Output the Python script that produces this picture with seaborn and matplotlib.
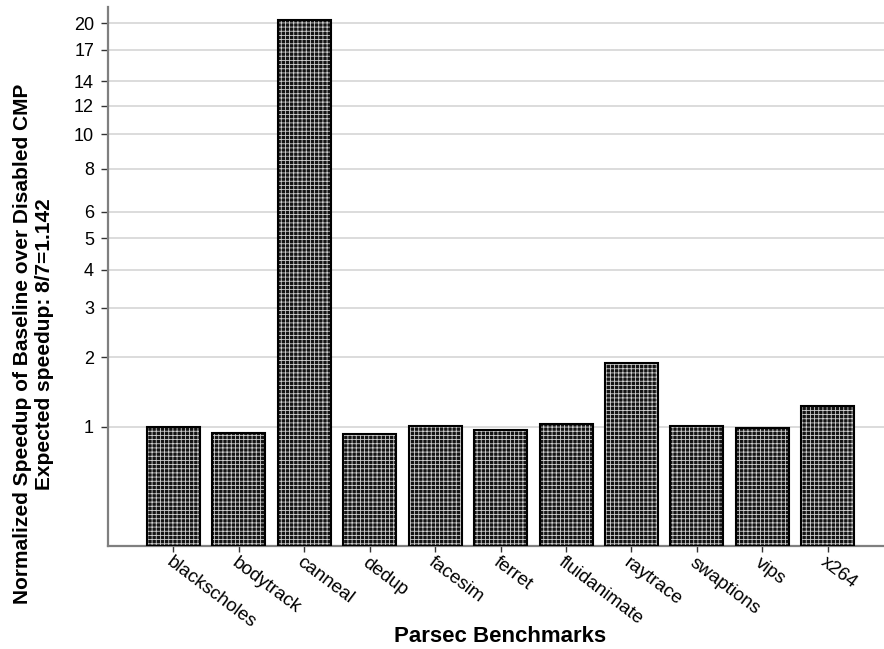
import numpy as np
import pandas as pd
import matplotlib
matplotlib.use("Agg")
import matplotlib.pyplot as plt
from matplotlib.patches import Rectangle
import seaborn as sns

benchmarks = ["blackscholes", "bodytrack", "canneal", "dedup", "facesim", "ferret",
              "fluidanimate", "raytrace", "swaptions", "vips", "x264"]
speedups = [0.994, 0.926, 20.4, 0.918, 1.004, 0.963, 1.03, 1.906, 1.006, 0.989, 1.254]
ytick_values = [1, 2, 3, 4, 5, 6, 8, 10, 12, 14, 17, 20]
ylabel_text = "Normalized Speedup of Baseline over Disabled CMP\nExpected speedup: 8/7=1.142"
xlabel_text = "Parsec Benchmarks"

sns.set_theme(style="white")
plt.rcParams['font.family'] = ['Liberation Sans', 'DejaVu Sans']
plt.rcParams['hatch.linewidth'] = 0.6

df = pd.DataFrame({"benchmark": benchmarks, "speedup": speedups})

fig = plt.figure(figsize=(8.84, 6.49), dpi=100)
ax = fig.add_axes([108 / 884, 1 - 545.7 / 649, 1 - 108 / 884, (545.7 - 7) / 649])

sns.barplot(data=df, x="benchmark", y="speedup", order=benchmarks, ax=ax,
            color="#141414", edgecolor="#d0d0d0", linewidth=0, hatch="++++",
            width=0.81, saturation=1, errorbar=None, zorder=2)
# crisp black outlines on top of the hatched bars
for p in list(ax.patches):
    ax.add_patch(Rectangle(p.get_xy(), p.get_width(), p.get_height(),
                           fill=False, edgecolor="#000000", linewidth=1.5, zorder=3))

ax.set_yscale("function", functions=(lambda v: np.log10(1 + np.clip(v, -0.999, None)),
                                     lambda v: 10 ** v - 1))
ax.set_ylim(0, 22.1)
ax.set_xlim(-1.0, 10.86)
ax.set_yticks(ytick_values)
ax.set_yticklabels([str(v) for v in ytick_values])
ax.minorticks_off()

ax.yaxis.grid(True, color="#d9d9d9", linewidth=1.3)
ax.xaxis.grid(False)
ax.set_axisbelow(True)

for s in ["top", "right"]:
    ax.spines[s].set_visible(False)
for s in ["left", "bottom"]:
    ax.spines[s].set_color("#7f7f7f")
    ax.spines[s].set_linewidth(1.6)

ax.tick_params(axis="y", which="major", left=True, length=5, width=1, color="#333333",
               labelsize=13, pad=5, labelcolor="black")
ax.tick_params(axis="x", which="major", bottom=True, length=4, width=1, color="#333333",
               labelsize=13.5, pad=2, labelcolor="black")
for lab in ax.get_xticklabels():
    lab.set_rotation(-37)
    lab.set_ha("left")
    lab.set_va("top")
    lab.set_rotation_mode("anchor")

ax.set_xlabel(xlabel_text, fontsize=16, fontweight="bold", color="black")
ax.xaxis.set_label_coords((500 - 108) / 776, (545.7 - 636) / 538.7)
ax.xaxis.label.set_va("center")

ax.set_ylabel(ylabel_text, fontsize=15, fontweight="bold", color="black",
              multialignment="center", linespacing=1.2)
ax.yaxis.set_label_coords((34 - 108) / 776, (545.7 - 344) / 538.7)
ax.yaxis.label.set_va("center")

fig.savefig("out.png", dpi=100)
